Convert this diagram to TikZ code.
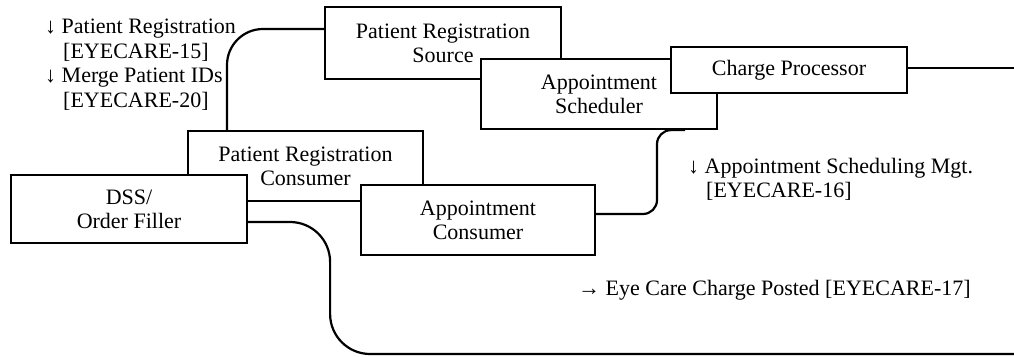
\documentclass[tikz,border=0pt]{standalone}
\usepackage{fontspec}
\setmainfont{Liberation Serif}
\begin{document}
\begin{tikzpicture}[x=1pt,y=-1pt,
    actor/.style={draw=black,fill=white,line width=2.2pt,inner sep=0pt,align=center,
      font=\fontsize{22}{24}\selectfont},
    link/.style={black,line width=2.2pt},
    txn/.style={inner sep=0pt,align=left,font=\fontsize{22}{24.5}\selectfont}]
    \useasboundingbox (0,0) rectangle (1014,356);
    % actors
    \node [actor,minimum width=236pt,minimum height=72pt] (regsrc) at (443,43) {Patient Registration\\Source};
    \node [actor,minimum width=236pt,minimum height=70pt] (apptsched) at (599,94) {Appointment\\Scheduler};
    \node [actor,minimum width=236pt,minimum height=46pt] (chgproc) at (789,70) {Charge Processor};
    \node [actor,minimum width=235pt,minimum height=70pt] (regcons) at (305.5,166) {Patient Registration\\Consumer};
    \node [actor,minimum width=236pt,minimum height=68pt] (dss) at (129,209) {DSS/\\Order Filler};
    \node [actor,minimum width=234pt,minimum height=70pt] (apptcons) at (478,220) {Appointment\\Consumer};
    \coordinate (chgEnd) at (1014,68);
    \coordinate (postEnd) at (1014,354);
    % transactions
    \draw [link,rounded corners=36pt] ([yshift=14pt]regsrc.west) -| ([xshift=-78.5pt]regcons.north);
    \draw [link,rounded corners=14pt] ([xshift=86pt]apptsched.south) -- ++(-28,0) |- ([yshift=6pt]apptcons.east);
    \draw [link] ([yshift=2pt]chgproc.east) -- (chgEnd);
    \draw [link,rounded corners=40pt] ([yshift=-13pt]dss.east) -- ++(82,0) |- (postEnd);
    \node [txn,anchor=north west] (reglbl) at (45,19) {↓ Patient Registration\\\hspace*{18pt}[EYECARE-15]\\↓ Merge Patient IDs\\\hspace*{18pt}[EYECARE-20]};
    \node [txn,anchor=north west] (apptlbl) at (688,158) {↓ Appointment Scheduling Mgt.\\\hspace*{18pt}[EYECARE-16]};
    \node [txn,anchor=west] (postlbl) at (578,290) {→ Eye Care Charge Posted [EYECARE-17]};
\end{tikzpicture}
\end{document}
